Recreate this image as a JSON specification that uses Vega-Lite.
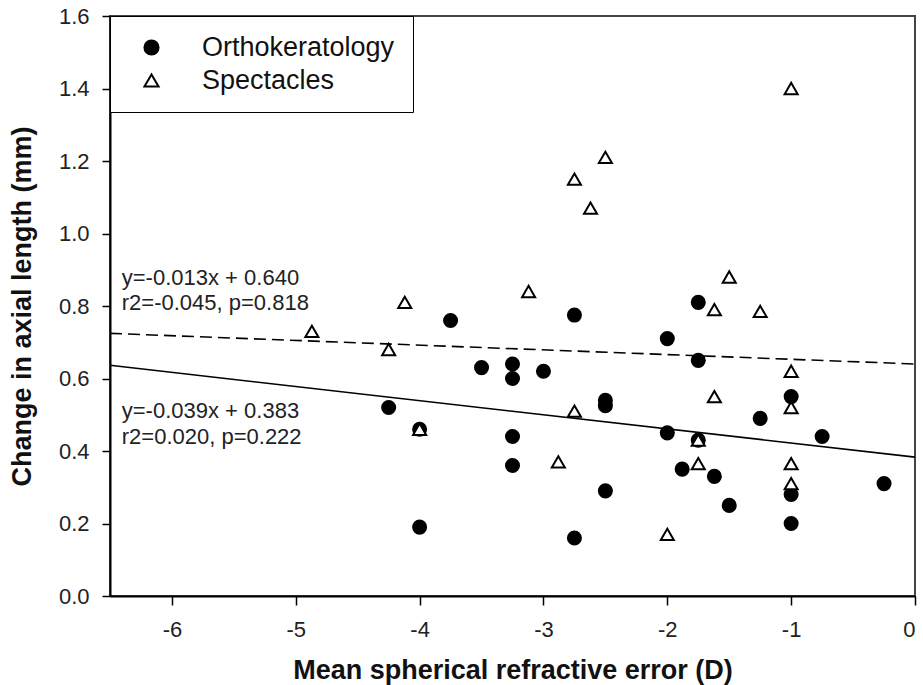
{
  "$schema": "https://vega.github.io/schema/vega-lite/v6.json",
  "width": 805,
  "height": 580,
  "autosize": "none",
  "padding": {"left": 110, "top": 16, "right": 8, "bottom": 89},
  "background": "white",
  "config": {
    "font": "Liberation Sans",
    "view": {"stroke": "#444", "strokeWidth": 2},
    "axis": {
      "grid": false,
      "domainColor": "black",
      "domainWidth": 2,
      "tickColor": "black",
      "tickWidth": 1.5,
      "labelFont": "Liberation Sans",
      "labelFontSize": 22,
      "labelColor": "#222",
      "titleFont": "Liberation Sans",
      "titleFontSize": 27,
      "titleFontWeight": "bold",
      "titleColor": "#111"
    }
  },
  "datasets": {
    "points": [
      {"group": "Orthokeratology", "ser": -4.25, "axl": 0.52},
      {"group": "Orthokeratology", "ser": -4.0, "axl": 0.46},
      {"group": "Orthokeratology", "ser": -4.0, "axl": 0.19},
      {"group": "Orthokeratology", "ser": -3.75, "axl": 0.76},
      {"group": "Orthokeratology", "ser": -3.5, "axl": 0.63},
      {"group": "Orthokeratology", "ser": -3.25, "axl": 0.64},
      {"group": "Orthokeratology", "ser": -3.25, "axl": 0.60},
      {"group": "Orthokeratology", "ser": -3.25, "axl": 0.44},
      {"group": "Orthokeratology", "ser": -3.25, "axl": 0.36},
      {"group": "Orthokeratology", "ser": -3.0, "axl": 0.62},
      {"group": "Orthokeratology", "ser": -2.75, "axl": 0.775},
      {"group": "Orthokeratology", "ser": -2.75, "axl": 0.16},
      {"group": "Orthokeratology", "ser": -2.5, "axl": 0.54},
      {"group": "Orthokeratology", "ser": -2.5, "axl": 0.525},
      {"group": "Orthokeratology", "ser": -2.5, "axl": 0.29},
      {"group": "Orthokeratology", "ser": -2.0, "axl": 0.71},
      {"group": "Orthokeratology", "ser": -2.0, "axl": 0.45},
      {"group": "Orthokeratology", "ser": -1.88, "axl": 0.35},
      {"group": "Orthokeratology", "ser": -1.75, "axl": 0.81},
      {"group": "Orthokeratology", "ser": -1.75, "axl": 0.65},
      {"group": "Orthokeratology", "ser": -1.75, "axl": 0.43},
      {"group": "Orthokeratology", "ser": -1.62, "axl": 0.33},
      {"group": "Orthokeratology", "ser": -1.5, "axl": 0.25},
      {"group": "Orthokeratology", "ser": -1.25, "axl": 0.49},
      {"group": "Orthokeratology", "ser": -1.0, "axl": 0.28},
      {"group": "Orthokeratology", "ser": -1.0, "axl": 0.20},
      {"group": "Orthokeratology", "ser": -0.75, "axl": 0.44},
      {"group": "Orthokeratology", "ser": -0.25, "axl": 0.31},
      {"group": "Spectacles", "ser": -4.87, "axl": 0.73},
      {"group": "Spectacles", "ser": -4.25, "axl": 0.68},
      {"group": "Spectacles", "ser": -4.12, "axl": 0.81},
      {"group": "Spectacles", "ser": -4.0, "axl": 0.46},
      {"group": "Spectacles", "ser": -3.12, "axl": 0.84},
      {"group": "Spectacles", "ser": -2.88, "axl": 0.37},
      {"group": "Spectacles", "ser": -2.75, "axl": 1.15},
      {"group": "Spectacles", "ser": -2.75, "axl": 0.51},
      {"group": "Spectacles", "ser": -2.62, "axl": 1.07},
      {"group": "Spectacles", "ser": -2.5, "axl": 1.21},
      {"group": "Spectacles", "ser": -2.0, "axl": 0.17},
      {"group": "Spectacles", "ser": -1.75, "axl": 0.43},
      {"group": "Spectacles", "ser": -1.75, "axl": 0.365},
      {"group": "Spectacles", "ser": -1.62, "axl": 0.79},
      {"group": "Spectacles", "ser": -1.62, "axl": 0.55},
      {"group": "Spectacles", "ser": -1.5, "axl": 0.88},
      {"group": "Spectacles", "ser": -1.25, "axl": 0.785},
      {"group": "Spectacles", "ser": -1.0, "axl": 1.40},
      {"group": "Spectacles", "ser": -1.0, "axl": 0.62},
      {"group": "Spectacles", "ser": -1.0, "axl": 0.52},
      {"group": "Spectacles", "ser": -1.0, "axl": 0.365},
      {"group": "Spectacles", "ser": -1.0, "axl": 0.31},
      {"group": "Orthokeratology", "ser": -1.0, "axl": 0.55}
    ],
    "fits": [
      {"fit": "Spectacles", "ser": -6.5, "axl": 0.7245},
      {"fit": "Spectacles", "ser": 0, "axl": 0.640},
      {"fit": "Orthokeratology", "ser": -6.5, "axl": 0.6365},
      {"fit": "Orthokeratology", "ser": 0, "axl": 0.383}
    ],
    "notes": [
      {"note": "y=-0.013x + 0.640", "ser": -6.405, "axl": 0.876},
      {"note": "r2=-0.045, p=0.818", "ser": -6.405, "axl": 0.807},
      {"note": "y=-0.039x + 0.383", "ser": -6.405, "axl": 0.510},
      {"note": "r2=0.020, p=0.222", "ser": -6.405, "axl": 0.439}
    ]
  },
  "encoding": {
    "x": {
      "field": "ser",
      "type": "quantitative",
      "scale": {"domain": [-6.5, 0], "nice": false, "zero": false},
      "axis": {
        "title": "Mean spherical refractive error (D)",
        "values": [-6, -5, -4, -3, -2, -1, 0],
        "labelExpr": "'' + datum.value",
        "tickSize": 9,
        "labelPadding": 14,
        "titlePadding": 17
      }
    },
    "y": {
      "field": "axl",
      "type": "quantitative",
      "scale": {"domain": [0, 1.6], "nice": false},
      "axis": {
        "title": "Change in axial length (mm)",
        "values": [0, 0.2, 0.4, 0.6, 0.8, 1.0, 1.2, 1.4, 1.6],
        "format": ".1f",
        "tickSize": 8,
        "labelPadding": 13,
        "titlePadding": 22
      }
    }
  },
  "layer": [
    {
      "data": {"name": "fits"},
      "transform": [{"filter": "datum.fit === 'Orthokeratology'"}],
      "mark": {"type": "line", "color": "black", "strokeWidth": 1.6},
      "encoding": {}
    },
    {
      "data": {"name": "fits"},
      "transform": [{"filter": "datum.fit === 'Spectacles'"}],
      "mark": {"type": "line", "color": "black", "strokeWidth": 1.6, "strokeDash": [12, 6]},
      "encoding": {}
    },
    {
      "data": {"name": "notes"},
      "mark": {"type": "text", "align": "left", "baseline": "middle", "fontSize": 22, "color": "#222", "font": "Liberation Sans"},
      "encoding": {"text": {"field": "note"}}
    },
    {
      "data": {"name": "points"},
      "mark": {"type": "point", "filled": true, "strokeWidth": 2, "opacity": 1, "size": 170},
      "encoding": {
        "shape": {
          "field": "group",
          "type": "nominal",
          "scale": {"domain": ["Orthokeratology", "Spectacles"], "range": ["circle", "triangle-up"]},
          "legend": {
            "title": null,
            "orient": "top-left",
            "offset": 0,
            "padding": 18,
            "strokeColor": "black",
            "fillColor": "white",
            "symbolSize": 200,
            "symbolStrokeWidth": 2,
            "labelFont": "Liberation Sans",
            "labelFontSize": 27,
            "labelColor": "#111",
            "labelOffset": 37,
            "symbolOffset": 10,
            "rowPadding": 5,
            "labelLimit": 400,
            "zindex": 2
          }
        },
        "fill": {
          "field": "group",
          "type": "nominal",
          "scale": {"domain": ["Orthokeratology", "Spectacles"], "range": ["black", "white"]},
          "legend": {"title": null}
        },
        "stroke": {
          "field": "group",
          "type": "nominal",
          "scale": {"domain": ["Orthokeratology", "Spectacles"], "range": ["black", "black"]},
          "legend": {"title": null}
        }
      }
    }
  ]
}
